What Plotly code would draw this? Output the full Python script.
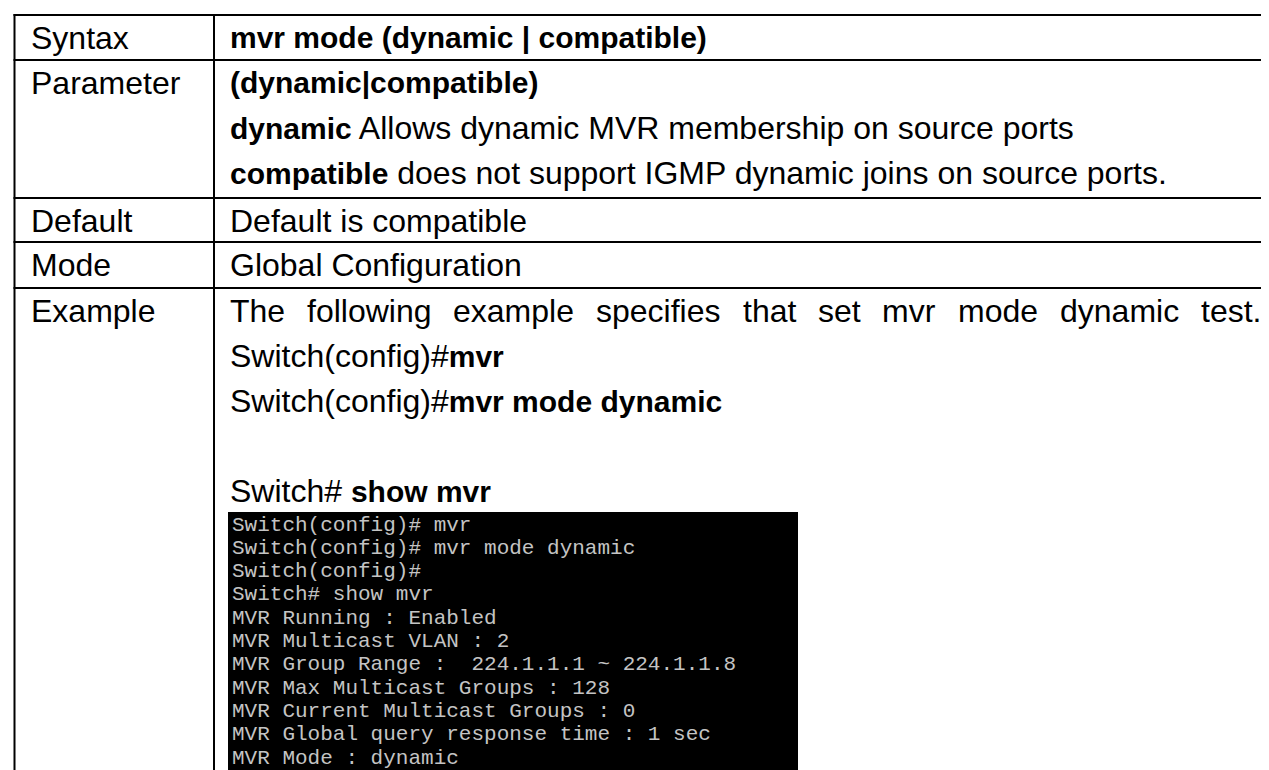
import plotly.graph_objects as go

W, H = 1269, 770

# ---------------- content ----------------
row_labels = ["Syntax", "Parameter", "Default", "Mode", "Example"]

def B(s):
    return f"<span style='font-weight:bold;font-size:30px'>{s}</span>"

syntax_lines = [B("mvr mode (dynamic | compatible)")]
parameter_lines = [
    B("(dynamic|compatible)"),
    B("dynamic") + " Allows dynamic MVR membership on source ports",
    B("compatible") + " does not support IGMP dynamic joins on source ports.",
]
default_lines = ["Default is compatible"]
mode_lines = ["Global Configuration"]
example_intro_words = ["The", "following", "example", "specifies", "that", "set",
                       "mvr", "mode", "dynamic", "test."]
example_lines = [
    None,  # justified intro sentence (drawn word by word)
    "Switch(config)#" + B("mvr"),
    "Switch(config)#" + B("mvr mode dynamic"),
    "",
    "Switch# " + B("show mvr"),
]
terminal_lines = [
    "Switch(config)# mvr",
    "Switch(config)# mvr mode dynamic",
    "Switch(config)#",
    "Switch# show mvr",
    "MVR Running : Enabled",
    "MVR Multicast VLAN : 2",
    "MVR Group Range :  224.1.1.1 ~ 224.1.1.8",
    "MVR Max Multicast Groups : 128",
    "MVR Current Multicast Groups : 0",
    "MVR Global query response time : 1 sec",
    "MVR Mode : dynamic",
]
cells = [syntax_lines, parameter_lines, default_lines, mode_lines, example_lines]

# ---------------- layout constants ----------------
FONT = "Liberation Sans"
FS = 32
LINE_H = 45
row_tops = [7, 52, 190, 234, 280]
X_LEFT, X_DIV, X_RIGHT = 6.5, 206, W
LABEL_X, CONTENT_X, CONTENT_RIGHT = 21, 221, 1252
TERM_X0, TERM_X1, TERM_Y0 = 220, 790, 504
TERM_LINE_H, TERM_FIRST = 23.3, 517

# Arial / Liberation Sans advance widths (per 1000 em)
AW = {' ': 278, '.': 278, 'T': 611, 'h': 556, 'e': 556, 'f': 278, 'o': 556, 'l': 222,
      'w': 722, 'i': 222, 'n': 556, 'g': 556, 'x': 500, 'a': 556, 'm': 833, 'p': 556,
      's': 500, 'c': 500, 't': 278, 'v': 500, 'r': 333, 'd': 556, 'y': 500}

def text_w(s):
    return sum(AW.get(ch, 556) for ch in s) * FS / 1000.0

fig = go.Figure()
shapes = []
ann = []

# table grid
for y in row_tops:
    shapes.append(dict(type="line", x0=X_LEFT - 1, x1=X_RIGHT, y0=y, y1=y,
                       line=dict(color="black", width=2)))
for x in (X_LEFT, X_DIV):
    shapes.append(dict(type="line", x0=x, x1=x, y0=row_tops[0] - 1, y1=H + 2,
                       line=dict(color="black", width=2)))

# terminal box
shapes.append(dict(type="rect", x0=TERM_X0, x1=TERM_X1, y0=TERM_Y0, y1=H + 5,
                   fillcolor="#000000", line=dict(width=0)))

base_font = dict(family=FONT, size=FS, color="#000000")

for r, (label, lines) in enumerate(zip(row_labels, cells)):
    top = row_tops[r]
    ann.append(dict(x=LABEL_X, y=top + LINE_H / 2, text=label, showarrow=False,
                    xanchor="left", yanchor="middle", font=base_font))
    for i, line in enumerate(lines):
        yc = top + LINE_H / 2 + i * LINE_H
        if line is None:
            # justified sentence
            widths = [text_w(wd) for wd in example_intro_words]
            gap = (CONTENT_RIGHT - CONTENT_X - sum(widths)) / (len(widths) - 1)
            x = CONTENT_X
            for wd, wpx in zip(example_intro_words, widths):
                ann.append(dict(x=x, y=yc, text=wd, showarrow=False, xanchor="left",
                                yanchor="middle", font=base_font, borderpad=0))
                x += wpx + gap
            continue
        if not line:
            continue
        ann.append(dict(x=CONTENT_X, y=yc, text=line, showarrow=False,
                        xanchor="left", yanchor="middle", font=base_font, borderpad=0))

for i, line in enumerate(terminal_lines):
    ann.append(dict(x=TERM_X0 + 3, y=TERM_FIRST + i * TERM_LINE_H, text=line,
                    showarrow=False, xanchor="left", yanchor="middle", borderpad=0,
                    font=dict(family="Liberation Mono", size=21, color="#c4c4c4")))

fig.update_layout(
    width=W, height=H, margin=dict(l=0, r=0, t=0, b=0),
    paper_bgcolor="white", plot_bgcolor="white",
    xaxis=dict(range=[0, W], visible=False, fixedrange=True),
    yaxis=dict(range=[H, 0], visible=False, fixedrange=True),
    shapes=shapes, annotations=ann, showlegend=False, hovermode=False,
)

fig.write_html("out.html", config={"displayModeBar": False, "staticPlot": True})
